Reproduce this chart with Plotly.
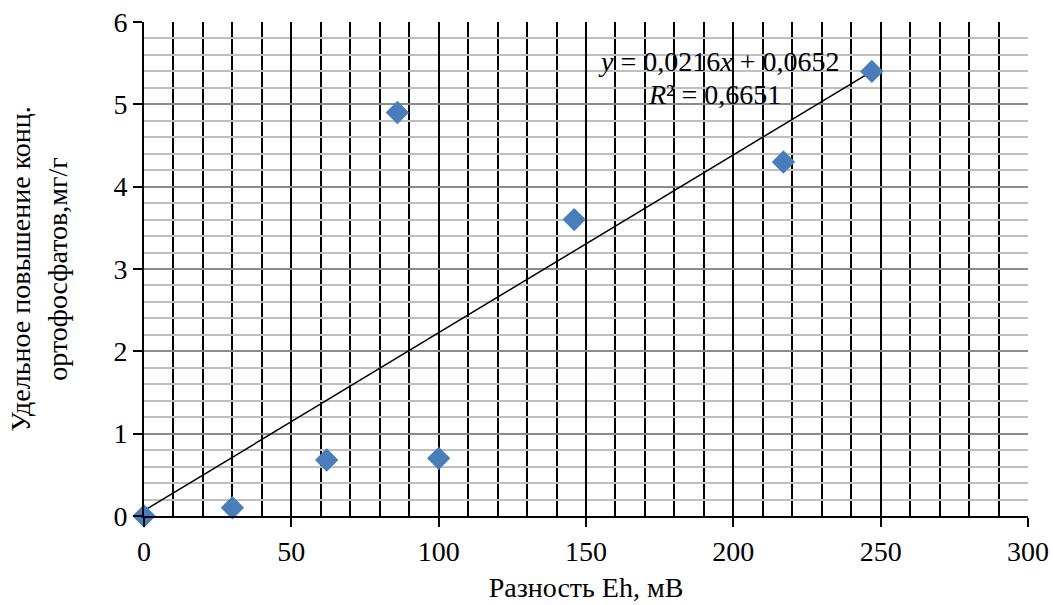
import plotly.graph_objects as go

# Measured points
eh_diff = [0, 30, 62, 86, 100, 146, 217, 247]
phosphate_rise = [0, 0.1, 0.68, 4.9, 0.7, 3.6, 4.3, 5.4]

# Linear trend (Excel-style)
slope = 0.0216
intercept = 0.0652
trend_x = [0, 247]
trend_y = [slope * x + intercept for x in trend_x]

FONT = "Liberation Serif, Times New Roman, serif"
FS = 28

fig = go.Figure()
fig.add_trace(go.Scatter(
    x=trend_x, y=trend_y, mode="lines",
    line=dict(color="black", width=1.5), showlegend=False, hoverinfo="skip",
))
fig.add_trace(go.Scatter(
    x=eh_diff, y=phosphate_rise, mode="markers",
    marker=dict(symbol="diamond", size=18, color="#4a7ebb"),
    showlegend=False, cliponaxis=False,
))

fig.add_annotation(
    x=0.65, y=0.955, xref="paper", yref="paper", showarrow=False,
    text="<i>y</i> = 0,0216<i>x</i> + 0,0652", font=dict(size=FS, color="black"),
)
fig.add_annotation(
    x=0.645, y=0.888, xref="paper", yref="paper", showarrow=False,
    text="<i>R</i>² = 0,6651", font=dict(size=FS, color="black"),
)

fig.update_xaxes(
    range=[0, 300], tick0=0, dtick=50,
    ticks="outside", ticklen=9, tickwidth=1.5, tickcolor="black",
    showgrid=True, gridcolor="black", gridwidth=1.5,
    minor=dict(dtick=10, showgrid=True, gridcolor="black", gridwidth=1.5),
    showline=True, linecolor="black", linewidth=2, zeroline=False,
    title=dict(text="Разность Eh, мВ", font=dict(size=FS), standoff=12),
    tickfont=dict(size=FS), automargin=False, ticklabeloverflow="allow",
)
fig.update_yaxes(
    range=[0, 6], tick0=0, dtick=1,
    ticks="outside", ticklen=9, tickwidth=1.5, tickcolor="black",
    showgrid=True, gridcolor="#8c8c8c", gridwidth=1.5,
    minor=dict(dtick=0.2, showgrid=True, gridcolor="#bfbfbf", gridwidth=1.5),
    showline=True, linecolor="black", linewidth=2, zeroline=False,
    title=dict(text="Удельное повышение конц.<br>ортофосфатов,мг/г",
               font=dict(size=FS), standoff=38),
    tickfont=dict(size=FS), automargin=False, ticklabeloverflow="allow",
)

fig.update_layout(
    width=1053, height=605,
    margin=dict(l=144, r=25, t=22, b=89),
    paper_bgcolor="white", plot_bgcolor="white",
    font=dict(family=FONT, color="black"),
)

# drop the default 8px page margin so the figure fills the window exactly
fig.write_html(
    "out.html",
    config={"displayModeBar": False},
    post_script="document.body.style.margin='0';",
)
